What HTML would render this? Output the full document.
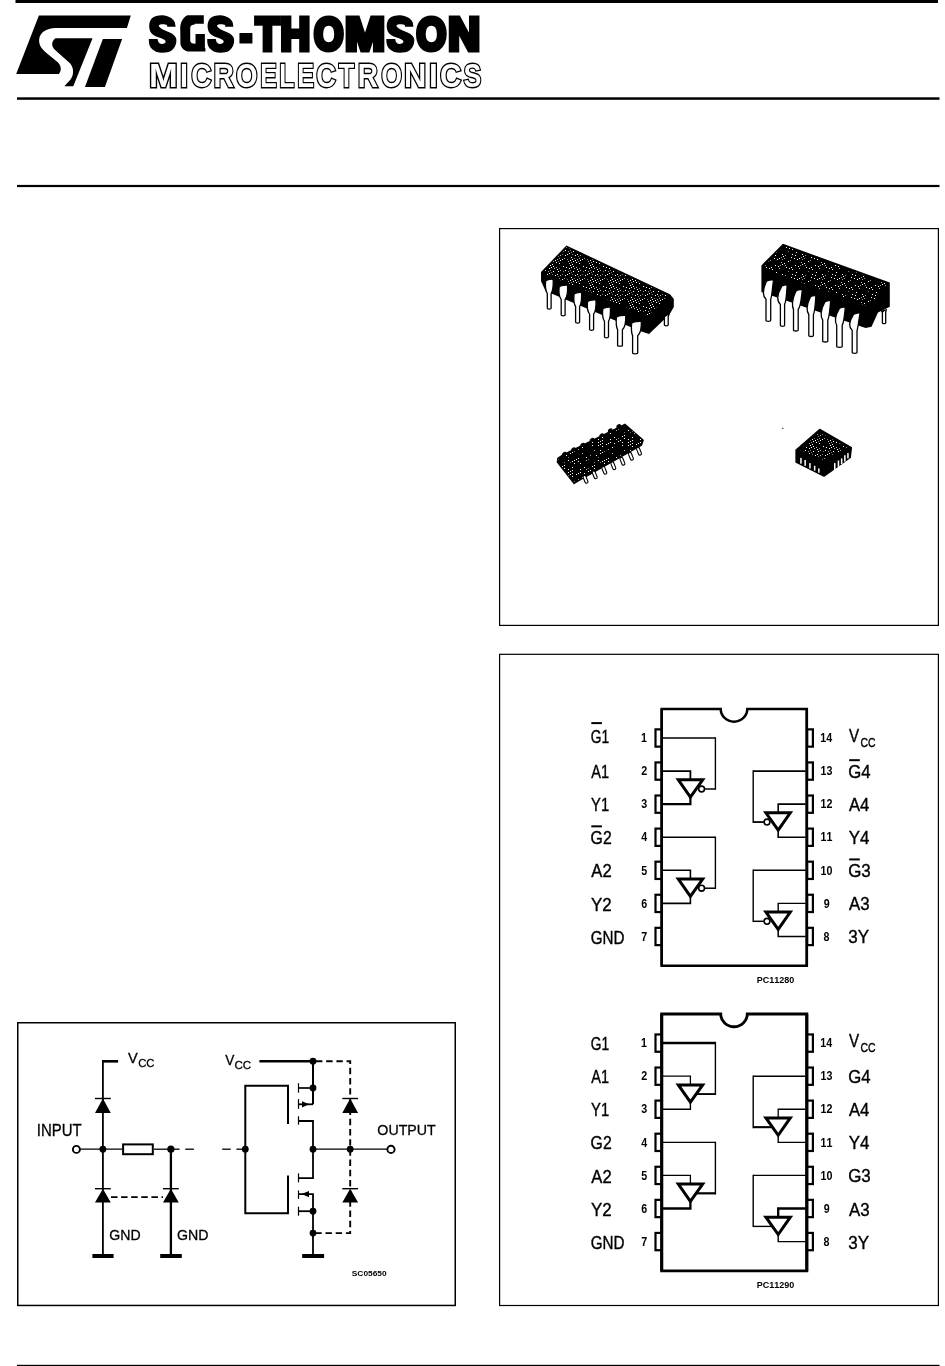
<!DOCTYPE html><html><head><meta charset="utf-8"><style>html,body{margin:0;padding:0;background:#fff;width:945px;height:1366px;overflow:hidden}svg{position:absolute;left:0;top:0;display:block;filter:grayscale(1)}text{font-family:"Liberation Sans",sans-serif;font-kerning:none}</style></head><body>
<svg width="945" height="1366" viewBox="0 0 945 1366">
<rect x="15.5" y="0" width="922.5" height="3" fill="#000"/>
<rect x="17" y="97.3" width="922.5" height="2.5" fill="#000"/>
<rect x="17" y="184.9" width="922.5" height="2.2" fill="#000"/>
<rect x="17" y="1364.8" width="922.5" height="1.2" fill="#000"/>
<g transform="translate(10,10) scale(0.137566)" fill="#000">
<path d="M210,40 L878,40 L850,131 L330,131 C262,133 218,165 212,212 C208,255 232,285 265,312 L345,378 C372,402 378,440 355,465 L45,465 Z"/>
<path d="M330,205 L600,205 L460,555 L395,555 L440,505 C468,468 462,418 438,388 L330,292 C298,265 300,228 330,205 Z"/>
<path d="M675,210 L815,210 L690,560 L545,560 Z"/>
</g>
<path transform="translate(148.80,12) scale(0.03671,0.03597) translate(-90,0)" d="M460,90 C620,100 760,180 800,290 L820,410 L590,410 L590,370 C560,345 520,340 480,338 C420,338 370,350 362,375 C365,420 400,445 500,500 L660,570 C760,610 830,680 840,760 C850,900 800,1000 700,1080 C640,1120 560,1135 460,1135 C340,1135 220,1090 150,1000 C100,930 90,860 90,750 L330,750 C335,820 360,880 440,888 C500,890 550,860 550,830 C545,790 520,765 430,730 L290,680 C200,640 130,580 110,480 C90,380 100,280 160,190 C240,110 350,88 460,90 Z" fill="#000"/>
<path transform="translate(177,12) scale(0.03597)" d="M290,90 L745,90 L745,325 L500,325 L490,350 L420,360 L385,390 L368,430 L368,800 L385,850 L440,875 L515,880 L515,615 L775,615 L775,1000 L790,1010 L790,1100 L290,1100 C200,1080 120,1000 95,900 L90,420 C100,300 140,200 230,125 Z" fill="#000"/>
<path transform="translate(207.20,12) scale(0.03592,0.03597) translate(-90,0)" d="M460,90 C620,100 760,180 800,290 L820,410 L590,410 L590,370 C560,345 520,340 480,338 C420,338 370,350 362,375 C365,420 400,445 500,500 L660,570 C760,610 830,680 840,760 C850,900 800,1000 700,1080 C640,1120 560,1135 460,1135 C340,1135 220,1090 150,1000 C100,930 90,860 90,750 L330,750 C335,820 360,880 440,888 C500,890 550,860 550,830 C545,790 520,765 430,730 L290,680 C200,640 130,580 110,480 C90,380 100,280 160,190 C240,110 350,88 460,90 Z" fill="#000"/>
<text transform="translate(240.07,49.70) scale(0.7872,1)" font-size="45.35" font-weight="bold" stroke="#000" stroke-width="5.0" stroke-linejoin="miter">-</text>
<text transform="translate(255.79,49.70) scale(0.8485,1)" font-size="45.35" font-weight="bold" stroke="#000" stroke-width="5.0" stroke-linejoin="miter">T</text>
<text transform="translate(280.62,49.70) scale(0.9033,1)" font-size="45.35" font-weight="bold" stroke="#000" stroke-width="5.0" stroke-linejoin="miter">H</text>
<text transform="translate(314.03,49.70) scale(0.8354,1)" font-size="45.35" font-weight="bold" stroke="#000" stroke-width="5.0" stroke-linejoin="miter">O</text>
<text transform="translate(345.04,49.70) scale(1.0570,1)" font-size="45.35" font-weight="bold" stroke="#000" stroke-width="5.0" stroke-linejoin="miter">M</text>
<path transform="translate(386.30,12) scale(0.03724,0.03597) translate(-90,0)" d="M460,90 C620,100 760,180 800,290 L820,410 L590,410 L590,370 C560,345 520,340 480,338 C420,338 370,350 362,375 C365,420 400,445 500,500 L660,570 C760,610 830,680 840,760 C850,900 800,1000 700,1080 C640,1120 560,1135 460,1135 C340,1135 220,1090 150,1000 C100,930 90,860 90,750 L330,750 C335,820 360,880 440,888 C500,890 550,860 550,830 C545,790 520,765 430,730 L290,680 C200,640 130,580 110,480 C90,380 100,280 160,190 C240,110 350,88 460,90 Z" fill="#000"/>
<text transform="translate(416.44,49.70) scale(0.8436,1)" font-size="45.35" font-weight="bold" stroke="#000" stroke-width="5.0" stroke-linejoin="miter">O</text>
<text transform="translate(448.18,49.70) scale(0.9697,1)" font-size="45.35" font-weight="bold" stroke="#000" stroke-width="5.0" stroke-linejoin="miter">N</text>
<text transform="translate(149.12,86.60) scale(1.0236,1)" font-size="33.72" font-weight="bold" fill="#000" stroke="#000" stroke-width="2.8">M</text>
<text transform="translate(179.97,86.60) scale(0.8489,1)" font-size="33.72" font-weight="bold" fill="#000" stroke="#000" stroke-width="2.8">I</text>
<text transform="translate(191.21,86.60) scale(0.8331,1)" font-size="33.72" font-weight="bold" fill="#000" stroke="#000" stroke-width="2.8">C</text>
<text transform="translate(213.48,86.60) scale(0.8387,1)" font-size="33.72" font-weight="bold" fill="#000" stroke="#000" stroke-width="2.8">R</text>
<text transform="translate(235.91,86.60) scale(0.8197,1)" font-size="33.72" font-weight="bold" fill="#000" stroke="#000" stroke-width="2.8">O</text>
<text transform="translate(260.37,86.60) scale(0.7367,1)" font-size="33.72" font-weight="bold" fill="#000" stroke="#000" stroke-width="2.8">E</text>
<text transform="translate(279.37,86.60) scale(0.7361,1)" font-size="33.72" font-weight="bold" fill="#000" stroke="#000" stroke-width="2.8">L</text>
<text transform="translate(297.16,86.60) scale(0.7505,1)" font-size="33.72" font-weight="bold" fill="#000" stroke="#000" stroke-width="2.8">E</text>
<text transform="translate(316.31,86.60) scale(0.8089,1)" font-size="33.72" font-weight="bold" fill="#000" stroke="#000" stroke-width="2.8">C</text>
<text transform="translate(338.87,86.60) scale(0.7503,1)" font-size="33.72" font-weight="bold" fill="#000" stroke="#000" stroke-width="2.8">T</text>
<text transform="translate(357.69,86.60) scale(0.8304,1)" font-size="33.72" font-weight="bold" fill="#000" stroke="#000" stroke-width="2.8">R</text>
<text transform="translate(381.21,86.60) scale(0.7930,1)" font-size="33.72" font-weight="bold" fill="#000" stroke="#000" stroke-width="2.8">O</text>
<text transform="translate(404.12,86.60) scale(0.9149,1)" font-size="33.72" font-weight="bold" fill="#000" stroke="#000" stroke-width="2.8">N</text>
<text transform="translate(429.10,86.60) scale(0.9403,1)" font-size="33.72" font-weight="bold" fill="#000" stroke="#000" stroke-width="2.8">I</text>
<text transform="translate(440.01,86.60) scale(0.8774,1)" font-size="33.72" font-weight="bold" fill="#000" stroke="#000" stroke-width="2.8">C</text>
<text transform="translate(463.44,86.60) scale(0.7912,1)" font-size="33.72" font-weight="bold" fill="#000" stroke="#000" stroke-width="2.8">S</text>
<text transform="translate(149.12,86.60) scale(1.0236,1)" font-size="33.72" font-weight="bold" fill="#fff">M</text>
<text transform="translate(179.97,86.60) scale(0.8489,1)" font-size="33.72" font-weight="bold" fill="#fff">I</text>
<text transform="translate(191.21,86.60) scale(0.8331,1)" font-size="33.72" font-weight="bold" fill="#fff">C</text>
<text transform="translate(213.48,86.60) scale(0.8387,1)" font-size="33.72" font-weight="bold" fill="#fff">R</text>
<text transform="translate(235.91,86.60) scale(0.8197,1)" font-size="33.72" font-weight="bold" fill="#fff">O</text>
<text transform="translate(260.37,86.60) scale(0.7367,1)" font-size="33.72" font-weight="bold" fill="#fff">E</text>
<text transform="translate(279.37,86.60) scale(0.7361,1)" font-size="33.72" font-weight="bold" fill="#fff">L</text>
<text transform="translate(297.16,86.60) scale(0.7505,1)" font-size="33.72" font-weight="bold" fill="#fff">E</text>
<text transform="translate(316.31,86.60) scale(0.8089,1)" font-size="33.72" font-weight="bold" fill="#fff">C</text>
<text transform="translate(338.87,86.60) scale(0.7503,1)" font-size="33.72" font-weight="bold" fill="#fff">T</text>
<text transform="translate(357.69,86.60) scale(0.8304,1)" font-size="33.72" font-weight="bold" fill="#fff">R</text>
<text transform="translate(381.21,86.60) scale(0.7930,1)" font-size="33.72" font-weight="bold" fill="#fff">O</text>
<text transform="translate(404.12,86.60) scale(0.9149,1)" font-size="33.72" font-weight="bold" fill="#fff">N</text>
<text transform="translate(429.10,86.60) scale(0.9403,1)" font-size="33.72" font-weight="bold" fill="#fff">I</text>
<text transform="translate(440.01,86.60) scale(0.8774,1)" font-size="33.72" font-weight="bold" fill="#fff">C</text>
<text transform="translate(463.44,86.60) scale(0.7912,1)" font-size="33.72" font-weight="bold" fill="#fff">S</text>
<rect x="499.6" y="228.6" width="438.8" height="396.8" fill="none" stroke="#000" stroke-width="1.2"/>
<rect x="499.6" y="654.3000000000001" width="438.8" height="651.1999999999998" fill="none" stroke="#000" stroke-width="1.2"/>
<rect x="17.75" y="1022.75" width="437.5" height="282.70000000000005" fill="none" stroke="#000" stroke-width="1.5"/>
<path d="M720.7,708.90 H661.7 V965.80 H806.8 V708.90 H747.3 A13.3,12.8 0 0 1 720.7,708.90 Z" fill="none" stroke="#000" stroke-width="2.5"/>
<rect x="655.5" y="729.35" width="6" height="17.3" fill="#fff" stroke="#000" stroke-width="2.2"/>
<rect x="807.2" y="729.35" width="5.7" height="17.3" fill="#fff" stroke="#000" stroke-width="2.2"/>
<rect x="655.5" y="762.43" width="6" height="17.3" fill="#fff" stroke="#000" stroke-width="2.2"/>
<rect x="807.2" y="762.43" width="5.7" height="17.3" fill="#fff" stroke="#000" stroke-width="2.2"/>
<rect x="655.5" y="795.51" width="6" height="17.3" fill="#fff" stroke="#000" stroke-width="2.2"/>
<rect x="807.2" y="795.51" width="5.7" height="17.3" fill="#fff" stroke="#000" stroke-width="2.2"/>
<rect x="655.5" y="828.59" width="6" height="17.3" fill="#fff" stroke="#000" stroke-width="2.2"/>
<rect x="807.2" y="828.59" width="5.7" height="17.3" fill="#fff" stroke="#000" stroke-width="2.2"/>
<rect x="655.5" y="861.67" width="6" height="17.3" fill="#fff" stroke="#000" stroke-width="2.2"/>
<rect x="807.2" y="861.67" width="5.7" height="17.3" fill="#fff" stroke="#000" stroke-width="2.2"/>
<rect x="655.5" y="894.75" width="6" height="17.3" fill="#fff" stroke="#000" stroke-width="2.2"/>
<rect x="807.2" y="894.75" width="5.7" height="17.3" fill="#fff" stroke="#000" stroke-width="2.2"/>
<rect x="655.5" y="927.83" width="6" height="17.3" fill="#fff" stroke="#000" stroke-width="2.2"/>
<rect x="807.2" y="927.83" width="5.7" height="17.3" fill="#fff" stroke="#000" stroke-width="2.2"/>
<path d="M661.7,708.90 V965.80 M806.8,708.90 V965.80" stroke="#000" stroke-width="2.5"/>
<path d="M663.0,738.00 H715.4" stroke="#000" fill="none" stroke-width="1.3"/>
<path d="M715.4,737.35 V789.73" stroke="#000" fill="none" stroke-width="1.4"/>
<path d="M715.4,788.98 H704.8" stroke="#000" fill="none" stroke-width="1.5"/>
<circle cx="701.6" cy="788.98" r="2.9" fill="#fff" stroke="#000" stroke-width="1.6"/>
<path d="M663.0,771.08 H690.4 V779.78" stroke="#000" fill="none" stroke-width="1.8"/>
<path d="M678.3,779.78 H702.7 L690.4,797.08 Z" fill="#fff" stroke="#000" stroke-width="3.0"/>
<path d="M690.4,795.58 V804.16 H663.0" stroke="#000" fill="none" stroke-width="2.2"/>
<path d="M663.0,837.24 H715.4" stroke="#000" fill="none" stroke-width="1.3"/>
<path d="M715.4,836.59 V888.97" stroke="#000" fill="none" stroke-width="1.4"/>
<path d="M715.4,888.22 H704.8" stroke="#000" fill="none" stroke-width="1.5"/>
<circle cx="701.6" cy="888.22" r="2.9" fill="#fff" stroke="#000" stroke-width="1.6"/>
<path d="M663.0,870.32 H690.4 V879.02" stroke="#000" fill="none" stroke-width="1.6"/>
<path d="M678.3,879.02 H702.7 L690.4,896.32 Z" fill="#fff" stroke="#000" stroke-width="3.0"/>
<path d="M690.4,894.82 V903.40 H663.0" stroke="#000" fill="none" stroke-width="1.6"/>
<path d="M805.6,771.08 H753.2" stroke="#000" fill="none" stroke-width="1.6"/>
<path d="M753.2,770.28 V822.96" stroke="#000" fill="none" stroke-width="1.4"/>
<path d="M753.2,822.06 H763.8" stroke="#000" fill="none" stroke-width="1.8"/>
<circle cx="767.0" cy="822.06" r="2.9" fill="#fff" stroke="#000" stroke-width="1.6"/>
<path d="M805.6,804.16 H778.2 V812.86" stroke="#000" fill="none" stroke-width="1.6"/>
<path d="M790.3,812.86 H765.9 L778.2,830.16 Z" fill="#fff" stroke="#000" stroke-width="3.0"/>
<path d="M778.2,828.66 V837.24 H805.6" stroke="#000" fill="none" stroke-width="1.6"/>
<path d="M805.6,870.32 H753.2" stroke="#000" fill="none" stroke-width="1.4"/>
<path d="M753.2,869.62 V922.05" stroke="#000" fill="none" stroke-width="1.4"/>
<path d="M753.2,921.30 H763.8" stroke="#000" fill="none" stroke-width="1.5"/>
<circle cx="767.0" cy="921.30" r="2.9" fill="#fff" stroke="#000" stroke-width="1.6"/>
<path d="M805.6,903.40 H778.2 V912.10" stroke="#000" fill="none" stroke-width="1.4"/>
<path d="M790.3,912.10 H765.9 L778.2,929.40 Z" fill="#fff" stroke="#000" stroke-width="3.0"/>
<path d="M778.2,927.90 V936.48 H805.6" stroke="#000" fill="none" stroke-width="1.5"/>
<text transform="translate(590.71,742.60) scale(0.7246,1)" font-size="19.00" font-weight="normal" stroke="#000" stroke-width="0.4">G1</text>
<rect x="591.3" y="722.10" width="10.6" height="2.0" fill="#000"/>
<text transform="translate(641.03,742.20) scale(0.8500,1)" font-size="12.60" font-weight="bold" >1</text>
<text transform="translate(591.37,778.18) scale(0.7632,1)" font-size="19.00" font-weight="normal" stroke="#000" stroke-width="0.4">A1</text>
<text transform="translate(641.25,775.28) scale(0.8500,1)" font-size="12.60" font-weight="bold" >2</text>
<text transform="translate(591.08,811.26) scale(0.7764,1)" font-size="19.00" font-weight="normal" stroke="#000" stroke-width="0.4">Y1</text>
<text transform="translate(641.29,808.36) scale(0.8500,1)" font-size="12.60" font-weight="bold" >3</text>
<text transform="translate(590.60,844.34) scale(0.8321,1)" font-size="19.00" font-weight="normal" stroke="#000" stroke-width="0.4">G2</text>
<rect x="591.3" y="825.34" width="10.6" height="2.0" fill="#000"/>
<text transform="translate(641.17,841.44) scale(0.8500,1)" font-size="12.60" font-weight="bold" >4</text>
<text transform="translate(591.37,877.42) scale(0.8765,1)" font-size="19.00" font-weight="normal" stroke="#000" stroke-width="0.4">A2</text>
<text transform="translate(641.21,874.52) scale(0.8500,1)" font-size="12.60" font-weight="bold" >5</text>
<text transform="translate(591.03,910.50) scale(0.8918,1)" font-size="19.00" font-weight="normal" stroke="#000" stroke-width="0.4">Y2</text>
<text transform="translate(641.22,907.60) scale(0.8500,1)" font-size="12.60" font-weight="bold" >6</text>
<text transform="translate(590.64,943.58) scale(0.8004,1)" font-size="19.00" font-weight="normal" stroke="#000" stroke-width="0.4">GND</text>
<text transform="translate(641.23,940.68) scale(0.8500,1)" font-size="12.60" font-weight="bold" >7</text>
<text transform="translate(848.93,741.90) scale(0.7996,1)" font-size="19.00" font-weight="normal" stroke="#000" stroke-width="0.4">V</text>
<text transform="translate(860.47,746.70) scale(0.8059,1)" font-size="13.00" font-weight="normal" stroke="#000" stroke-width="0.4">CC</text>
<text transform="translate(820.34,742.20) scale(0.8500,1)" font-size="12.60" font-weight="bold" >14</text>
<text transform="translate(848.16,778.08) scale(0.8811,1)" font-size="19.00" font-weight="normal" stroke="#000" stroke-width="0.4">G4</text>
<rect x="849.2" y="759.18" width="10.6" height="2.0" fill="#000"/>
<text transform="translate(820.50,775.28) scale(0.8500,1)" font-size="12.60" font-weight="bold" >13</text>
<text transform="translate(848.97,811.16) scale(0.8743,1)" font-size="19.00" font-weight="normal" stroke="#000" stroke-width="0.4">A4</text>
<text transform="translate(820.52,808.36) scale(0.8500,1)" font-size="12.60" font-weight="bold" >12</text>
<text transform="translate(848.63,844.24) scale(0.8893,1)" font-size="19.00" font-weight="normal" stroke="#000" stroke-width="0.4">Y4</text>
<text transform="translate(820.46,841.44) scale(0.8500,1)" font-size="12.60" font-weight="bold" >11</text>
<text transform="translate(848.15,877.32) scale(0.8915,1)" font-size="19.00" font-weight="normal" stroke="#000" stroke-width="0.4">G3</text>
<rect x="849.2" y="858.42" width="10.6" height="2.0" fill="#000"/>
<text transform="translate(820.53,874.52) scale(0.8500,1)" font-size="12.60" font-weight="bold" >10</text>
<text transform="translate(848.97,910.40) scale(0.8852,1)" font-size="19.00" font-weight="normal" stroke="#000" stroke-width="0.4">A3</text>
<text transform="translate(823.63,907.60) scale(0.8500,1)" font-size="12.60" font-weight="bold" >9</text>
<text transform="translate(848.35,943.48) scale(0.8960,1)" font-size="19.00" font-weight="normal" stroke="#000" stroke-width="0.4">3Y</text>
<text transform="translate(823.62,940.68) scale(0.8500,1)" font-size="12.60" font-weight="bold" >8</text>
<text transform="translate(756.80,982.60) scale(0.9686,1)" font-size="9.30" font-weight="bold" >PC11280</text>
<path d="M720.7,1014.00 H661.7 V1270.90 H806.8 V1014.00 H747.3 A13.3,12.8 0 0 1 720.7,1014.00 Z" fill="none" stroke="#000" stroke-width="2.9"/>
<rect x="655.5" y="1034.45" width="6" height="17.3" fill="#fff" stroke="#000" stroke-width="2.2"/>
<rect x="807.2" y="1034.45" width="5.7" height="17.3" fill="#fff" stroke="#000" stroke-width="2.2"/>
<rect x="655.5" y="1067.53" width="6" height="17.3" fill="#fff" stroke="#000" stroke-width="2.2"/>
<rect x="807.2" y="1067.53" width="5.7" height="17.3" fill="#fff" stroke="#000" stroke-width="2.2"/>
<rect x="655.5" y="1100.61" width="6" height="17.3" fill="#fff" stroke="#000" stroke-width="2.2"/>
<rect x="807.2" y="1100.61" width="5.7" height="17.3" fill="#fff" stroke="#000" stroke-width="2.2"/>
<rect x="655.5" y="1133.69" width="6" height="17.3" fill="#fff" stroke="#000" stroke-width="2.2"/>
<rect x="807.2" y="1133.69" width="5.7" height="17.3" fill="#fff" stroke="#000" stroke-width="2.2"/>
<rect x="655.5" y="1166.77" width="6" height="17.3" fill="#fff" stroke="#000" stroke-width="2.2"/>
<rect x="807.2" y="1166.77" width="5.7" height="17.3" fill="#fff" stroke="#000" stroke-width="2.2"/>
<rect x="655.5" y="1199.85" width="6" height="17.3" fill="#fff" stroke="#000" stroke-width="2.2"/>
<rect x="807.2" y="1199.85" width="5.7" height="17.3" fill="#fff" stroke="#000" stroke-width="2.2"/>
<rect x="655.5" y="1232.93" width="6" height="17.3" fill="#fff" stroke="#000" stroke-width="2.2"/>
<rect x="807.2" y="1232.93" width="5.7" height="17.3" fill="#fff" stroke="#000" stroke-width="2.2"/>
<path d="M661.7,1014.00 V1270.90 M806.8,1014.00 V1270.90" stroke="#000" stroke-width="2.9"/>
<path d="M663.0,1043.10 H715.4" stroke="#000" fill="none" stroke-width="2.5"/>
<path d="M715.4,1041.85 V1095.03" stroke="#000" fill="none" stroke-width="1.4"/>
<path d="M715.4,1094.08 H697.0" stroke="#000" fill="none" stroke-width="1.9"/>
<path d="M663.0,1076.18 H690.4 V1084.88" stroke="#000" fill="none" stroke-width="1.3"/>
<path d="M678.3,1084.88 H702.7 L690.4,1102.18 Z" fill="#fff" stroke="#000" stroke-width="3.0"/>
<path d="M690.4,1100.68 V1109.26 H663.0" stroke="#000" fill="none" stroke-width="1.4"/>
<path d="M663.0,1142.34 H715.4" stroke="#000" fill="none" stroke-width="1.3"/>
<path d="M715.4,1141.69 V1194.42" stroke="#000" fill="none" stroke-width="1.4"/>
<path d="M715.4,1193.32 H697.0" stroke="#000" fill="none" stroke-width="2.2"/>
<path d="M663.0,1175.42 H690.4 V1184.12" stroke="#000" fill="none" stroke-width="1.3"/>
<path d="M678.3,1184.12 H702.7 L690.4,1201.42 Z" fill="#fff" stroke="#000" stroke-width="3.0"/>
<path d="M690.4,1199.92 V1208.50 H663.0" stroke="#000" fill="none" stroke-width="2.3"/>
<path d="M805.6,1076.18 H753.2" stroke="#000" fill="none" stroke-width="1.4"/>
<path d="M753.2,1075.48 V1128.21" stroke="#000" fill="none" stroke-width="1.4"/>
<path d="M753.2,1127.16 H771.6" stroke="#000" fill="none" stroke-width="2.1"/>
<path d="M805.6,1109.26 H778.2 V1117.96" stroke="#000" fill="none" stroke-width="1.3"/>
<path d="M790.3,1117.96 H765.9 L778.2,1135.26 Z" fill="#fff" stroke="#000" stroke-width="3.0"/>
<path d="M778.2,1133.76 V1142.34 H805.6" stroke="#000" fill="none" stroke-width="1.4"/>
<path d="M805.6,1175.42 H753.2" stroke="#000" fill="none" stroke-width="1.4"/>
<path d="M753.2,1174.72 V1227.10" stroke="#000" fill="none" stroke-width="1.4"/>
<path d="M753.2,1226.40 H771.6" stroke="#000" fill="none" stroke-width="1.4"/>
<path d="M805.6,1208.50 H778.2 V1217.20" stroke="#000" fill="none" stroke-width="2.3"/>
<path d="M790.3,1217.20 H765.9 L778.2,1234.50 Z" fill="#fff" stroke="#000" stroke-width="3.0"/>
<path d="M778.2,1233.00 V1241.58 H805.6" stroke="#000" fill="none" stroke-width="1.4"/>
<text transform="translate(590.71,1050.20) scale(0.7246,1)" font-size="19.00" font-weight="normal" stroke="#000" stroke-width="0.4">G1</text>
<text transform="translate(641.03,1047.30) scale(0.8500,1)" font-size="12.60" font-weight="bold" >1</text>
<text transform="translate(591.37,1083.28) scale(0.7632,1)" font-size="19.00" font-weight="normal" stroke="#000" stroke-width="0.4">A1</text>
<text transform="translate(641.25,1080.38) scale(0.8500,1)" font-size="12.60" font-weight="bold" >2</text>
<text transform="translate(591.08,1116.36) scale(0.7764,1)" font-size="19.00" font-weight="normal" stroke="#000" stroke-width="0.4">Y1</text>
<text transform="translate(641.29,1113.46) scale(0.8500,1)" font-size="12.60" font-weight="bold" >3</text>
<text transform="translate(590.60,1149.44) scale(0.8321,1)" font-size="19.00" font-weight="normal" stroke="#000" stroke-width="0.4">G2</text>
<text transform="translate(641.17,1146.54) scale(0.8500,1)" font-size="12.60" font-weight="bold" >4</text>
<text transform="translate(591.37,1182.52) scale(0.8765,1)" font-size="19.00" font-weight="normal" stroke="#000" stroke-width="0.4">A2</text>
<text transform="translate(641.21,1179.62) scale(0.8500,1)" font-size="12.60" font-weight="bold" >5</text>
<text transform="translate(591.03,1215.60) scale(0.8918,1)" font-size="19.00" font-weight="normal" stroke="#000" stroke-width="0.4">Y2</text>
<text transform="translate(641.22,1212.70) scale(0.8500,1)" font-size="12.60" font-weight="bold" >6</text>
<text transform="translate(590.64,1248.68) scale(0.8004,1)" font-size="19.00" font-weight="normal" stroke="#000" stroke-width="0.4">GND</text>
<text transform="translate(641.23,1245.78) scale(0.8500,1)" font-size="12.60" font-weight="bold" >7</text>
<text transform="translate(848.93,1047.00) scale(0.7996,1)" font-size="19.00" font-weight="normal" stroke="#000" stroke-width="0.4">V</text>
<text transform="translate(860.47,1051.80) scale(0.8059,1)" font-size="13.00" font-weight="normal" stroke="#000" stroke-width="0.4">CC</text>
<text transform="translate(820.34,1047.30) scale(0.8500,1)" font-size="12.60" font-weight="bold" >14</text>
<text transform="translate(848.16,1083.18) scale(0.8811,1)" font-size="19.00" font-weight="normal" stroke="#000" stroke-width="0.4">G4</text>
<text transform="translate(820.50,1080.38) scale(0.8500,1)" font-size="12.60" font-weight="bold" >13</text>
<text transform="translate(848.97,1116.26) scale(0.8743,1)" font-size="19.00" font-weight="normal" stroke="#000" stroke-width="0.4">A4</text>
<text transform="translate(820.52,1113.46) scale(0.8500,1)" font-size="12.60" font-weight="bold" >12</text>
<text transform="translate(848.63,1149.34) scale(0.8893,1)" font-size="19.00" font-weight="normal" stroke="#000" stroke-width="0.4">Y4</text>
<text transform="translate(820.46,1146.54) scale(0.8500,1)" font-size="12.60" font-weight="bold" >11</text>
<text transform="translate(848.15,1182.42) scale(0.8915,1)" font-size="19.00" font-weight="normal" stroke="#000" stroke-width="0.4">G3</text>
<text transform="translate(820.53,1179.62) scale(0.8500,1)" font-size="12.60" font-weight="bold" >10</text>
<text transform="translate(848.97,1215.50) scale(0.8852,1)" font-size="19.00" font-weight="normal" stroke="#000" stroke-width="0.4">A3</text>
<text transform="translate(823.63,1212.70) scale(0.8500,1)" font-size="12.60" font-weight="bold" >9</text>
<text transform="translate(848.35,1248.58) scale(0.8960,1)" font-size="19.00" font-weight="normal" stroke="#000" stroke-width="0.4">3Y</text>
<text transform="translate(823.62,1245.78) scale(0.8500,1)" font-size="12.60" font-weight="bold" >8</text>
<text transform="translate(756.80,1287.70) scale(0.9686,1)" font-size="9.30" font-weight="bold" >PC11290</text>
<path d="M118.1,1061.3 L102.9,1061.3 L102.9,1254.0" fill="none" stroke="#000" stroke-width="1.8" stroke-linecap="butt" stroke-linejoin="miter"/>
<rect x="102" y="1060" width="16.1" height="2.5" fill="#000"/>
<path d="M102.9,1098.5 L110.80000000000001,1112.9 L95.0,1112.9 Z" fill="#000"/>
<rect x="95.0" y="1097.8" width="15.8" height="1.4" fill="#000"/>
<path d="M102.9,1188.7 L110.80000000000001,1202.5 L95.0,1202.5 Z" fill="#000"/>
<rect x="95.0" y="1188.0" width="15.8" height="1.4" fill="#000"/>
<path d="M79.5,1149.2 L122.0,1149.2" fill="none" stroke="#000" stroke-width="1.3" stroke-linecap="butt" stroke-linejoin="miter"/>
<path d="M154.0,1149.2 L179.6,1149.2" fill="none" stroke="#000" stroke-width="1.3" stroke-linecap="butt" stroke-linejoin="miter"/>
<rect x="123.1" y="1144.4" width="29.7" height="9.8" fill="#fff" stroke="#000" stroke-width="2"/>
<circle cx="76.4" cy="1149.4" r="3.5" fill="#fff" stroke="#000" stroke-width="1.9"/>
<circle cx="102.9" cy="1149.2" r="3.4" fill="#000"/>
<circle cx="170.9" cy="1149.2" r="3.6" fill="#000"/>
<path d="M170.9,1149.2 L170.9,1254.0" fill="none" stroke="#000" stroke-width="2.3" stroke-linecap="butt" stroke-linejoin="miter"/>
<path d="M170.9,1188.7 L178.8,1202.5 L163.0,1202.5 Z" fill="#000"/>
<rect x="163.0" y="1188.0" width="15.8" height="1.4" fill="#000"/>
<path d="M111.0,1197.1 L163.0,1197.1" fill="none" stroke="#000" stroke-width="1.6" stroke-linecap="butt" stroke-linejoin="miter" stroke-dasharray="6.5,3.6"/>
<path d="M185.2,1149.2 L193.9,1149.2" fill="none" stroke="#000" stroke-width="1.3" stroke-linecap="butt" stroke-linejoin="miter"/>
<path d="M222.2,1149.2 L230.7,1149.2" fill="none" stroke="#000" stroke-width="1.3" stroke-linecap="butt" stroke-linejoin="miter"/>
<path d="M236.4,1149.2 L245.0,1149.2" fill="none" stroke="#000" stroke-width="1.3" stroke-linecap="butt" stroke-linejoin="miter"/>
<rect x="92.4" y="1254" width="21.2" height="4" fill="#000"/>
<rect x="160.2" y="1254" width="21.6" height="4" fill="#000"/>
<rect x="302.2" y="1254" width="21.9" height="4" fill="#000"/>
<path d="M259.4,1061.2 L313.0,1061.2" fill="none" stroke="#000" stroke-width="2.5" stroke-linecap="butt" stroke-linejoin="miter"/>
<path d="M313.0,1061.2 L313.0,1104.3" fill="none" stroke="#000" stroke-width="2.0" stroke-linecap="butt" stroke-linejoin="miter"/>
<path d="M298.5,1088.0 L313.0,1088.0" fill="none" stroke="#000" stroke-width="1.7" stroke-linecap="butt" stroke-linejoin="miter"/>
<path d="M298.5,1104.3 L313.0,1104.3" fill="none" stroke="#000" stroke-width="1.8" stroke-linecap="butt" stroke-linejoin="miter"/>
<path d="M302,1101.2 L309.1,1104.3 L302,1107.6 Z" fill="#000"/>
<path d="M298.5,1121.0 L313.0,1121.0 L313.0,1178.2 L298.5,1178.2" fill="none" stroke="#000" stroke-width="1.8" stroke-linecap="butt" stroke-linejoin="miter"/>
<path d="M298.5,1083.2 L298.5,1092.7" fill="none" stroke="#000" stroke-width="1.2" stroke-linecap="butt" stroke-linejoin="miter"/>
<path d="M298.5,1099.1 L298.5,1108.9" fill="none" stroke="#000" stroke-width="1.2" stroke-linecap="butt" stroke-linejoin="miter"/>
<path d="M298.5,1116.3 L298.5,1124.7" fill="none" stroke="#000" stroke-width="1.2" stroke-linecap="butt" stroke-linejoin="miter"/>
<path d="M298.5,1173.4 L298.5,1182.4" fill="none" stroke="#000" stroke-width="1.2" stroke-linecap="butt" stroke-linejoin="miter"/>
<path d="M298.5,1190.5 L298.5,1198.9" fill="none" stroke="#000" stroke-width="1.2" stroke-linecap="butt" stroke-linejoin="miter"/>
<path d="M298.5,1206.7 L298.5,1215.7" fill="none" stroke="#000" stroke-width="1.2" stroke-linecap="butt" stroke-linejoin="miter"/>
<path d="M298.5,1194.1 L313.0,1194.1 L313.0,1256.0" fill="none" stroke="#000" stroke-width="1.8" stroke-linecap="butt" stroke-linejoin="miter"/>
<path d="M309,1190.9 L301.5,1194.1 L309,1197.3 Z" fill="#000"/>
<path d="M298.5,1211.2 L313.0,1211.2" fill="none" stroke="#000" stroke-width="1.8" stroke-linecap="butt" stroke-linejoin="miter"/>
<path d="M288.0,1123.9 L288.0,1085.8 L245.3,1085.8 L245.3,1213.2 L288.0,1213.2 L288.0,1175.5" fill="none" stroke="#000" stroke-width="2.0" stroke-linecap="butt" stroke-linejoin="miter"/>
<path d="M313.0,1149.2 L387.5,1149.2" fill="none" stroke="#000" stroke-width="1.3" stroke-linecap="butt" stroke-linejoin="miter"/>
<circle cx="391" cy="1149.4" r="3.6" fill="#fff" stroke="#000" stroke-width="1.9"/>
<path d="M316.0,1061.2 L350.2,1061.2 L350.2,1233.1 L316.0,1233.1" fill="none" stroke="#000" stroke-width="1.9" stroke-linecap="butt" stroke-linejoin="miter" stroke-dasharray="6.4,3.8"/>
<path d="M350.2,1098.5 L358.09999999999997,1112.9 L342.3,1112.9 Z" fill="#000"/>
<rect x="342.3" y="1097.8" width="15.8" height="1.4" fill="#000"/>
<path d="M350.2,1188.7 L358.09999999999997,1202.5 L342.3,1202.5 Z" fill="#000"/>
<rect x="342.3" y="1188.0" width="15.8" height="1.4" fill="#000"/>
<circle cx="313" cy="1061.2" r="3.4" fill="#000"/>
<circle cx="313" cy="1088" r="3.4" fill="#000"/>
<circle cx="245.3" cy="1149.2" r="3.4" fill="#000"/>
<circle cx="313" cy="1149.2" r="3.4" fill="#000"/>
<circle cx="350.2" cy="1149.2" r="3.4" fill="#000"/>
<circle cx="313" cy="1211.2" r="3.4" fill="#000"/>
<circle cx="313" cy="1233.1" r="3.4" fill="#000"/>
<text transform="translate(127.94,1063.30) scale(0.9935,1)" font-size="14.68" font-weight="normal" stroke="#000" stroke-width="0.3">V</text>
<text transform="translate(138.23,1066.90) scale(0.9830,1)" font-size="11.48" font-weight="normal" stroke="#000" stroke-width="0.3">CC</text>
<text transform="translate(225.14,1065.10) scale(0.9314,1)" font-size="14.68" font-weight="normal" stroke="#000" stroke-width="0.3">V</text>
<text transform="translate(234.41,1069.00) scale(1.0087,1)" font-size="11.48" font-weight="normal" stroke="#000" stroke-width="0.3">CC</text>
<text transform="translate(36.72,1136.10) scale(0.9118,1)" font-size="16.42" font-weight="normal" stroke="#000" stroke-width="0.3">INPUT</text>
<text transform="translate(377.33,1135.30) scale(0.9221,1)" font-size="15.41" font-weight="normal" stroke="#000" stroke-width="0.3">OUTPUT</text>
<text transform="translate(109.29,1239.50) scale(0.9621,1)" font-size="14.68" font-weight="normal" stroke="#000" stroke-width="0.3">GND</text>
<text transform="translate(177.09,1239.50) scale(0.9653,1)" font-size="14.68" font-weight="normal" stroke="#000" stroke-width="0.3">GND</text>
<text transform="translate(351.76,1275.60) scale(1.0658,1)" font-size="7.85" font-weight="bold" >SC05650</text>
<defs><pattern id="sp" x="0" y="0" width="20" height="20" patternUnits="userSpaceOnUse"><rect width="20" height="20" fill="#000"/><rect x="0" y="0" width="1" height="1" fill="#fff"/><rect x="10" y="0" width="1" height="1" fill="#fff"/><rect x="15" y="0" width="1" height="1" fill="#fff"/><rect x="8" y="1" width="1" height="1" fill="#bbb"/><rect x="13" y="1" width="1" height="1" fill="#fff"/><rect x="18" y="1" width="1" height="1" fill="#777"/><rect x="11" y="2" width="1" height="1" fill="#999"/><rect x="16" y="2" width="1" height="1" fill="#fff"/><rect x="9" y="3" width="1" height="1" fill="#bbb"/><rect x="19" y="3" width="1" height="1" fill="#fff"/><rect x="12" y="4" width="1" height="1" fill="#fff"/><rect x="10" y="5" width="1" height="1" fill="#fff"/><rect x="3" y="6" width="1" height="1" fill="#fff"/><rect x="13" y="6" width="1" height="1" fill="#fff"/><rect x="6" y="7" width="1" height="1" fill="#fff"/><rect x="11" y="7" width="1" height="1" fill="#fff"/><rect x="16" y="7" width="1" height="1" fill="#bbb"/><rect x="9" y="8" width="1" height="1" fill="#fff"/><rect x="14" y="8" width="1" height="1" fill="#bbb"/><rect x="19" y="8" width="1" height="1" fill="#777"/><rect x="17" y="9" width="1" height="1" fill="#fff"/><rect x="0" y="10" width="1" height="1" fill="#bbb"/><rect x="5" y="10" width="1" height="1" fill="#fff"/><rect x="10" y="10" width="1" height="1" fill="#777"/><rect x="3" y="11" width="1" height="1" fill="#777"/><rect x="8" y="11" width="1" height="1" fill="#999"/><rect x="13" y="11" width="1" height="1" fill="#fff"/><rect x="18" y="11" width="1" height="1" fill="#fff"/><rect x="11" y="12" width="1" height="1" fill="#777"/><rect x="9" y="13" width="1" height="1" fill="#fff"/><rect x="2" y="14" width="1" height="1" fill="#777"/><rect x="7" y="14" width="1" height="1" fill="#fff"/><rect x="12" y="14" width="1" height="1" fill="#777"/><rect x="17" y="14" width="1" height="1" fill="#fff"/><rect x="0" y="15" width="1" height="1" fill="#bbb"/><rect x="5" y="15" width="1" height="1" fill="#fff"/><rect x="15" y="15" width="1" height="1" fill="#fff"/><rect x="18" y="16" width="1" height="1" fill="#777"/><rect x="11" y="17" width="1" height="1" fill="#fff"/><rect x="4" y="18" width="1" height="1" fill="#999"/><rect x="14" y="18" width="1" height="1" fill="#777"/><rect x="19" y="18" width="1" height="1" fill="#999"/><rect x="2" y="19" width="1" height="1" fill="#fff"/><rect x="7" y="19" width="1" height="1" fill="#777"/><rect x="12" y="19" width="1" height="1" fill="#fff"/><rect x="17" y="19" width="1" height="1" fill="#bbb"/></pattern><pattern id="spd" x="0" y="0" width="20" height="20" patternUnits="userSpaceOnUse"><rect width="20" height="20" fill="#000"/><rect x="10" y="0" width="1" height="1" fill="#999"/><rect x="8" y="1" width="1" height="1" fill="#fff"/><rect x="1" y="2" width="1" height="1" fill="#bbb"/><rect x="4" y="3" width="1" height="1" fill="#fff"/><rect x="2" y="4" width="1" height="1" fill="#fff"/><rect x="0" y="5" width="1" height="1" fill="#999"/><rect x="5" y="5" width="1" height="1" fill="#999"/><rect x="15" y="5" width="1" height="1" fill="#fff"/><rect x="18" y="6" width="1" height="1" fill="#fff"/><rect x="6" y="7" width="1" height="1" fill="#fff"/><rect x="11" y="7" width="1" height="1" fill="#fff"/><rect x="9" y="8" width="1" height="1" fill="#fff"/><rect x="19" y="8" width="1" height="1" fill="#bbb"/><rect x="12" y="9" width="1" height="1" fill="#fff"/><rect x="8" y="11" width="1" height="1" fill="#777"/><rect x="16" y="12" width="1" height="1" fill="#fff"/><rect x="2" y="14" width="1" height="1" fill="#fff"/><rect x="12" y="14" width="1" height="1" fill="#fff"/><rect x="5" y="15" width="1" height="1" fill="#999"/><rect x="15" y="15" width="1" height="1" fill="#fff"/><rect x="3" y="16" width="1" height="1" fill="#fff"/><rect x="1" y="17" width="1" height="1" fill="#999"/><rect x="11" y="17" width="1" height="1" fill="#fff"/><rect x="4" y="18" width="1" height="1" fill="#999"/><rect x="14" y="18" width="1" height="1" fill="#fff"/><rect x="19" y="18" width="1" height="1" fill="#fff"/><rect x="2" y="19" width="1" height="1" fill="#999"/><rect x="17" y="19" width="1" height="1" fill="#fff"/></pattern><pattern id="sp3" x="0" y="0" width="30" height="30" patternUnits="userSpaceOnUse"><rect width="30" height="30" fill="#000"/><rect x="0" y="0" width="1" height="1" fill="#fff"/><rect x="24" y="0" width="1" height="1" fill="#bbb"/><rect x="4" y="1" width="1" height="1" fill="#777"/><rect x="2" y="2" width="1" height="1" fill="#fff"/><rect x="0" y="3" width="1" height="1" fill="#fff"/><rect x="12" y="3" width="1" height="1" fill="#bbb"/><rect x="20" y="5" width="1" height="1" fill="#999"/><rect x="26" y="5" width="1" height="1" fill="#fff"/><rect x="16" y="7" width="1" height="1" fill="#fff"/><rect x="28" y="7" width="1" height="1" fill="#777"/><rect x="8" y="8" width="1" height="1" fill="#fff"/><rect x="6" y="9" width="1" height="1" fill="#fff"/><rect x="18" y="9" width="1" height="1" fill="#777"/><rect x="4" y="10" width="1" height="1" fill="#fff"/><rect x="16" y="10" width="1" height="1" fill="#bbb"/><rect x="28" y="10" width="1" height="1" fill="#fff"/><rect x="2" y="11" width="1" height="1" fill="#fff"/><rect x="8" y="11" width="1" height="1" fill="#fff"/><rect x="0" y="12" width="1" height="1" fill="#777"/><rect x="24" y="12" width="1" height="1" fill="#777"/><rect x="4" y="13" width="1" height="1" fill="#fff"/><rect x="10" y="13" width="1" height="1" fill="#fff"/><rect x="24" y="15" width="1" height="1" fill="#fff"/><rect x="22" y="16" width="1" height="1" fill="#fff"/><rect x="2" y="17" width="1" height="1" fill="#fff"/><rect x="14" y="17" width="1" height="1" fill="#fff"/><rect x="18" y="18" width="1" height="1" fill="#777"/><rect x="24" y="18" width="1" height="1" fill="#fff"/><rect x="10" y="19" width="1" height="1" fill="#fff"/><rect x="16" y="19" width="1" height="1" fill="#bbb"/><rect x="28" y="19" width="1" height="1" fill="#fff"/><rect x="2" y="20" width="1" height="1" fill="#fff"/><rect x="20" y="20" width="1" height="1" fill="#fff"/><rect x="0" y="21" width="1" height="1" fill="#fff"/><rect x="18" y="21" width="1" height="1" fill="#fff"/><rect x="10" y="22" width="1" height="1" fill="#fff"/><rect x="22" y="22" width="1" height="1" fill="#fff"/><rect x="28" y="22" width="1" height="1" fill="#fff"/><rect x="2" y="23" width="1" height="1" fill="#fff"/><rect x="8" y="23" width="1" height="1" fill="#fff"/><rect x="14" y="23" width="1" height="1" fill="#fff"/><rect x="0" y="24" width="1" height="1" fill="#fff"/><rect x="6" y="24" width="1" height="1" fill="#fff"/><rect x="22" y="25" width="1" height="1" fill="#fff"/><rect x="28" y="25" width="1" height="1" fill="#fff"/><rect x="2" y="26" width="1" height="1" fill="#fff"/><rect x="12" y="27" width="1" height="1" fill="#fff"/><rect x="8" y="29" width="1" height="1" fill="#999"/></pattern><pattern id="sp2" x="0" y="0" width="20" height="20" patternUnits="userSpaceOnUse"><rect width="20" height="20" fill="#000"/><rect x="0" y="0" width="1" height="1" fill="#bbb"/><rect x="5" y="0" width="1" height="1" fill="#999"/><rect x="10" y="0" width="1" height="1" fill="#fff"/><rect x="8" y="1" width="1" height="1" fill="#fff"/><rect x="13" y="1" width="1" height="1" fill="#999"/><rect x="18" y="1" width="1" height="1" fill="#fff"/><rect x="1" y="2" width="1" height="1" fill="#fff"/><rect x="6" y="2" width="1" height="1" fill="#999"/><rect x="11" y="2" width="1" height="1" fill="#fff"/><rect x="14" y="3" width="1" height="1" fill="#fff"/><rect x="7" y="4" width="1" height="1" fill="#fff"/><rect x="12" y="4" width="1" height="1" fill="#fff"/><rect x="5" y="5" width="1" height="1" fill="#fff"/><rect x="13" y="6" width="1" height="1" fill="#fff"/><rect x="18" y="6" width="1" height="1" fill="#bbb"/><rect x="1" y="7" width="1" height="1" fill="#fff"/><rect x="6" y="7" width="1" height="1" fill="#fff"/><rect x="14" y="8" width="1" height="1" fill="#fff"/><rect x="19" y="8" width="1" height="1" fill="#fff"/><rect x="7" y="9" width="1" height="1" fill="#bbb"/><rect x="17" y="9" width="1" height="1" fill="#fff"/><rect x="5" y="10" width="1" height="1" fill="#999"/><rect x="10" y="10" width="1" height="1" fill="#fff"/><rect x="3" y="11" width="1" height="1" fill="#fff"/><rect x="8" y="11" width="1" height="1" fill="#bbb"/><rect x="16" y="12" width="1" height="1" fill="#999"/><rect x="9" y="13" width="1" height="1" fill="#fff"/><rect x="2" y="14" width="1" height="1" fill="#bbb"/><rect x="7" y="14" width="1" height="1" fill="#777"/><rect x="17" y="14" width="1" height="1" fill="#999"/><rect x="0" y="15" width="1" height="1" fill="#bbb"/><rect x="15" y="15" width="1" height="1" fill="#999"/><rect x="3" y="16" width="1" height="1" fill="#777"/><rect x="8" y="16" width="1" height="1" fill="#fff"/><rect x="13" y="16" width="1" height="1" fill="#bbb"/><rect x="1" y="17" width="1" height="1" fill="#777"/><rect x="6" y="17" width="1" height="1" fill="#fff"/><rect x="16" y="17" width="1" height="1" fill="#bbb"/><rect x="4" y="18" width="1" height="1" fill="#bbb"/><rect x="9" y="18" width="1" height="1" fill="#fff"/><rect x="14" y="18" width="1" height="1" fill="#999"/><rect x="19" y="18" width="1" height="1" fill="#999"/><rect x="12" y="19" width="1" height="1" fill="#bbb"/><rect x="17" y="19" width="1" height="1" fill="#fff"/></pattern></defs>
<polygon points="566.4,245.5 670.0,294.3 673.8,299.0 673.8,307.0 669.5,314.5 649.0,334.0 640.0,331.0 545.5,291.0 541.0,281.0 541.0,272.0" fill="#000" />
<polygon points="566.4,247.3 668.3,295.3 648.0,316.0 542.8,272.9" fill="url(#sp)" />
<path d="M545.6,281.5 C545.6,279.5 553.2,278.7 553.2,279.5 C553.4,284.5 553.1,290.5 551.1,293.5 L551.1,308.3 Q551.1,309.1 549.2,309.1 Q547.3,309.1 547.3,308.3 L547.3,293.5 C545.4,290.5 545.1,286.5 545.6,281.5 Z" fill="#fff" stroke="#000" stroke-width="1.3" stroke-linejoin="round"/>
<path d="M559.1,287.4 C559.1,285.4 567.6,284.6 567.6,285.4 C567.8,290.4 567.5,296.4 565.1,299.4 L565.1,315.1 Q565.1,315.9 563.2,315.9 Q561.2,315.9 561.2,315.1 L561.2,299.4 C558.9,296.4 558.6,292.4 559.1,287.4 Z" fill="#fff" stroke="#000" stroke-width="1.3" stroke-linejoin="round"/>
<path d="M574.0,294.6 C574.0,292.6 581.6,291.8 581.6,292.6 C581.8,297.6 581.5,303.6 579.6,306.6 L579.6,322.3 Q579.6,323.1 577.6,323.1 Q575.6,323.1 575.6,322.3 L575.6,306.6 C573.8,303.6 573.5,299.6 574.0,294.6 Z" fill="#fff" stroke="#000" stroke-width="1.3" stroke-linejoin="round"/>
<path d="M587.5,302.2 C587.5,300.2 596.0,299.4 596.0,300.2 C596.2,305.2 595.9,311.2 593.6,314.2 L593.6,329.5 Q593.6,330.3 591.6,330.3 Q589.6,330.3 589.6,329.5 L589.6,314.2 C587.3,311.2 587.0,307.2 587.5,302.2 Z" fill="#fff" stroke="#000" stroke-width="1.3" stroke-linejoin="round"/>
<path d="M602.7,309.4 C602.7,307.4 610.4,306.6 610.4,307.4 C610.6,312.4 610.3,318.4 608.5,321.4 L608.5,337.1 Q608.5,337.9 606.5,337.9 Q604.5,337.9 604.5,337.1 L604.5,321.4 C602.5,318.4 602.2,314.4 602.7,309.4 Z" fill="#fff" stroke="#000" stroke-width="1.3" stroke-linejoin="round"/>
<path d="M616.4,317.7 C616.4,315.7 625.7,314.9 625.7,315.7 C625.9,320.7 625.6,326.7 622.4,329.7 L622.4,345.4 Q622.4,346.2 620.0,346.2 Q617.6,346.2 617.6,345.4 L617.6,329.7 C616.2,326.7 615.9,322.7 616.4,317.7 Z" fill="#fff" stroke="#000" stroke-width="1.3" stroke-linejoin="round"/>
<path d="M631.6,323.7 C631.6,321.7 641.3,320.9 641.3,321.7 C641.5,326.7 641.2,332.7 637.7,335.7 L637.7,353.0 Q637.7,353.8 635.2,353.8 Q632.6,353.8 632.6,353.0 L632.6,335.7 C631.4,332.7 631.1,328.7 631.6,323.7 Z" fill="#fff" stroke="#000" stroke-width="1.3" stroke-linejoin="round"/>
<path d="M664.2,317.2 C664.2,315.2 668.4,314.4 668.4,315.2 C669.2,314.1 668.9,314.0 668.2,317.0 L668.2,325.1 Q668.2,325.9 666.3,325.9 Q664.4,325.9 664.4,325.1 L664.4,317.0 C663.7,314.0 663.4,316.1 664.2,317.2 Z" fill="#fff" stroke="#000" stroke-width="1.3" stroke-linejoin="round"/>
<polygon points="782.9,243.8 889.8,282.6 889.8,306.7 886.3,308.5 878.0,312.6 871.5,326.7 865.6,327.9 859.6,326.0 761.4,292.0 761.4,265.4" fill="#000" />
<polygon points="782.9,245.5 887.5,284.0 869.3,306.7 762.5,268.5" fill="url(#spd)" />
<path d="M766.0,282.2 C766.0,280.2 772.4,279.4 773.6,280.2 C772.3,287.8 772.0,296.3 770.7,299.3 L770.7,320.5 Q770.7,321.3 768.4,321.3 Q766.0,321.3 766.0,320.5 L766.0,299.3 C763.0,296.3 762.7,289.8 766.0,282.2 Z" fill="#fff" stroke="#000" stroke-width="1.3" stroke-linejoin="round"/>
<path d="M781.2,287.3 C781.2,285.3 785.9,284.5 787.1,285.3 C786.7,292.9 786.4,301.4 784.6,304.4 L784.6,325.6 Q784.6,326.4 782.5,326.4 Q780.4,326.4 780.4,325.6 L780.4,304.4 C776.9,301.4 776.6,294.9 781.2,287.3 Z" fill="#fff" stroke="#000" stroke-width="1.3" stroke-linejoin="round"/>
<path d="M795.6,292.0 C795.6,290.0 801.1,289.2 802.3,290.0 C801.3,297.7 801.0,306.4 798.2,309.4 L798.2,330.2 Q798.2,331.0 795.9,331.0 Q793.5,331.0 793.5,330.2 L793.5,309.4 C792.0,306.4 791.7,299.7 795.6,292.0 Z" fill="#fff" stroke="#000" stroke-width="1.3" stroke-linejoin="round"/>
<path d="M810.0,297.9 C810.0,295.9 814.7,295.1 815.9,295.9 C815.3,303.2 815.0,311.5 813.4,314.5 L813.4,335.7 Q813.4,336.5 811.1,336.5 Q808.8,336.5 808.8,335.7 L808.8,314.5 C806.5,311.5 806.2,305.2 810.0,297.9 Z" fill="#fff" stroke="#000" stroke-width="1.3" stroke-linejoin="round"/>
<path d="M824.4,303.0 C824.4,301.0 829.5,300.2 830.7,301.0 C829.8,308.5 829.5,317.0 827.8,320.0 L827.8,341.2 Q827.8,342.0 825.2,342.0 Q822.7,342.0 822.7,341.2 L822.7,320.0 C820.5,317.0 820.2,310.5 824.4,303.0 Z" fill="#fff" stroke="#000" stroke-width="1.3" stroke-linejoin="round"/>
<path d="M838.9,309.4 C838.9,307.4 844.1,306.6 845.3,307.4 C844.5,314.3 844.2,322.2 842.2,325.2 L842.2,346.6 Q842.2,347.4 839.5,347.4 Q836.7,347.4 836.7,346.6 L836.7,325.2 C835.1,322.2 834.8,316.3 838.9,309.4 Z" fill="#fff" stroke="#000" stroke-width="1.3" stroke-linejoin="round"/>
<path d="M853.0,315.3 C853.0,313.3 858.9,312.5 860.1,313.3 C858.6,319.9 858.3,327.4 857.0,330.4 L857.0,352.5 Q857.0,353.3 854.6,353.3 Q852.2,353.3 852.2,352.5 L852.2,330.4 C849.1,327.4 848.8,321.9 853.0,315.3 Z" fill="#fff" stroke="#000" stroke-width="1.3" stroke-linejoin="round"/>
<path d="M882.2,312.5 C882.2,310.5 885.9,309.7 885.9,310.5 C886.7,309.2 886.4,309.0 885.7,312.0 L885.7,322.9 Q885.7,323.7 884.0,323.7 Q882.4,323.7 882.4,322.9 L882.4,312.0 C881.7,309.0 881.4,311.2 882.2,312.5 Z" fill="#fff" stroke="#000" stroke-width="1.3" stroke-linejoin="round"/>
<ellipse cx="564.5" cy="454.2" rx="2.6" ry="2.2" fill="#000" transform="rotate(-27 564.5 454.2)"/>
<ellipse cx="573.6" cy="449.7" rx="2.6" ry="2.2" fill="#000" transform="rotate(-27 573.6 449.7)"/>
<ellipse cx="582.7" cy="445.1" rx="2.6" ry="2.2" fill="#000" transform="rotate(-27 582.7 445.1)"/>
<ellipse cx="592.2" cy="440.1" rx="2.6" ry="2.2" fill="#000" transform="rotate(-27 592.2 440.1)"/>
<ellipse cx="601.8" cy="435.6" rx="2.6" ry="2.2" fill="#000" transform="rotate(-27 601.8 435.6)"/>
<ellipse cx="610.3" cy="430.6" rx="2.6" ry="2.2" fill="#000" transform="rotate(-27 610.3 430.6)"/>
<ellipse cx="618.8" cy="426.5" rx="2.6" ry="2.2" fill="#000" transform="rotate(-27 618.8 426.5)"/>
<polygon points="563.0,454.7 624.9,424.2 643.3,440.1 641.5,445.3 579.1,480.5 574.1,483.6 557.3,462.2 557.8,458.2" fill="url(#sp3)" stroke="#000" stroke-width="1.2" stroke-linejoin="round"/>
<rect x="584.2" y="475.3" width="3" height="8" rx="1.4" fill="#fff" stroke="#000" stroke-width="1.1" transform="rotate(-22 585.7 479.8)"/>
<rect x="593.4" y="470.8" width="3" height="8" rx="1.4" fill="#fff" stroke="#000" stroke-width="1.1" transform="rotate(-22 594.9 475.3)"/>
<rect x="603.0" y="466.3" width="3" height="8" rx="1.4" fill="#fff" stroke="#000" stroke-width="1.1" transform="rotate(-22 604.5 470.8)"/>
<rect x="612.0" y="461.7" width="3" height="8" rx="1.4" fill="#fff" stroke="#000" stroke-width="1.1" transform="rotate(-22 613.5 466.2)"/>
<rect x="621.1" y="457.2" width="3" height="8" rx="1.4" fill="#fff" stroke="#000" stroke-width="1.1" transform="rotate(-22 622.6 461.7)"/>
<rect x="629.6" y="452.2" width="3" height="8" rx="1.4" fill="#fff" stroke="#000" stroke-width="1.1" transform="rotate(-22 631.1 456.7)"/>
<rect x="637.7" y="447.2" width="3" height="8" rx="1.4" fill="#fff" stroke="#000" stroke-width="1.1" transform="rotate(-22 639.2 451.7)"/>
<polygon points="819.7,429.5 851.3,447.7 850.2,457.5 824.0,476.1 796.1,462.1 796.1,450.0" fill="#000" stroke="#000" stroke-width="1.5" stroke-linejoin="round"/>
<polygon points="819.7,432.5 847.5,448.0 825.0,460.5 800.0,450.0" fill="url(#sp)" />
<rect x="800.2" y="457.9" width="1.5" height="5.8" fill="#fff"/>
<rect x="804.4" y="460.0" width="1.5" height="5.8" fill="#fff"/>
<rect x="809.2" y="463.1" width="1.5" height="5.3" fill="#fff"/>
<rect x="813.9" y="465.8" width="1.5" height="4.8" fill="#fff"/>
<rect x="818.1" y="468.4" width="1.5" height="4.3" fill="#fff"/>
<rect x="834.0" y="463.1" width="1.5" height="6.9" fill="#fff"/>
<rect x="837.7" y="460.5" width="1.5" height="6.4" fill="#fff"/>
<rect x="840.9" y="458.5" width="1.5" height="5.5" fill="#fff"/>
<rect x="844.1" y="455.2" width="1.5" height="6.4" fill="#fff"/>
<rect x="847.2" y="453.1" width="1.5" height="5.3" fill="#fff"/>
<rect x="782.2" y="427.8" width="1.2" height="1" fill="#000"/>
</svg></body></html>
